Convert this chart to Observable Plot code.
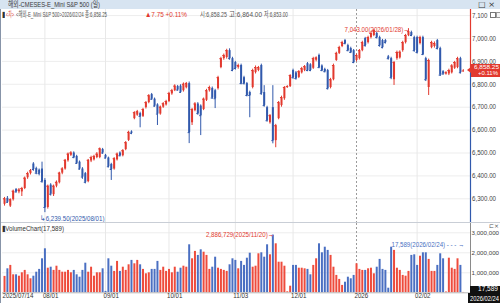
<!DOCTYPE html>
<html><head><meta charset="utf-8">
<script src="https://cdn.jsdelivr.net/npm/d3@7"></script>
<script src="https://cdn.jsdelivr.net/npm/@observablehq/plot@0.6"></script>
<style>
body{margin:0;background:#fff;}
#wrap{position:relative;width:500px;height:303px;overflow:hidden;background:#fff;
 font-family:"Liberation Sans","Noto Sans CJK KR",sans-serif;}
#titlebar{position:absolute;left:0;top:0;width:500px;height:9px;background:#d7e4f1;}
.abs{position:absolute;white-space:nowrap;line-height:1;transform-origin:0 50%;}
#main{position:absolute;left:0;top:9px;}
#vol{position:absolute;left:0;top:223px;}
#sep{position:absolute;left:0;top:222px;width:500px;height:1px;background:#c9ced6;}
#lborder{position:absolute;left:0;top:9px;width:1px;height:294px;background:#8794a8;}
</style></head>
<body><div id="wrap">
<div id="titlebar"></div>
<div id="main"></div>
<div id="sep"></div>
<div id="vol"></div>
<div id="lborder"></div>
</div>
<script>
// ---- data ----
const tickIndex = [0, 14, 35, 57, 80, 100, 122, 143, 159];
const tickLabel = ["2025/07/14","08/01","09/01","10/01","11/03","12/01","2026","02/02","2026/02/24"];
const priceTicks = [6300,6400,6500,6600,6700,6800,6900,7000,7100];
const volTicks = [1000000,2000000,3000000];
const hiDate = "2026/01/28", loDate = "2025/08/01", vmaxDate = "2025/11/20", lastDate = "2026/02/24";
const lastChange = 7.75, lastChangePct = 0.11;
const open = [6276,6302,6268,6296,6340,6330,6330,6345,6392,6410,
6452,6432,6425,6430,6380,6262,6360,6318,6355,6370,
6412,6430,6466,6490,6500,6485,6460,6430,6410,6375,
6465,6470,6480,6480,6515,6490,6478,6450,6430,6470,
6500,6488,6515,6555,6592,6650,6665,6672,6660,6698,
6720,6755,6735,6710,6670,6700,6710,6725,6758,6772,
6790,6792,6772,6785,6803,6632,6685,6714,6705,6690,
6730,6772,6782,6772,6781,6873,6912,6917,6947,6912,
6895,6873,6882,6829,6803,6764,6786,6851,6860,6882,
6764,6698,6632,6698,6554,6650,6707,6737,6786,6790,
6860,6850,6830,6850,6860,6890,6885,6870,6905,6926,
6880,6865,6860,6786,6820,6904,6935,6965,6991,6969,
6956,6947,6904,6912,6947,7000,6982,7004,7013,7022,
7004,6991,6991,6920,6912,6820,6912,6915,6947,6982,
7013,7026,7004,7004,6978,7004,6912,6786,6960,6965,
6991,6956,6855,6845,6845,6850,6870,6873,6912,6858.25];
const close = [6300,6285,6296,6333,6330,6338,6345,6390,6410,6422,
6428,6412,6410,6375,6262,6355,6320,6355,6372,6412,
6430,6468,6495,6500,6480,6455,6430,6395,6372,6468,
6480,6485,6495,6518,6500,6478,6440,6428,6475,6495,
6488,6510,6545,6590,6586,6676,6680,6660,6690,6720,
6750,6735,6705,6670,6700,6715,6725,6760,6772,6792,
6775,6765,6800,6803,6589,6690,6714,6672,6663,6735,
6772,6786,6740,6737,6829,6912,6926,6947,6912,6860,
6869,6882,6803,6803,6751,6751,6860,6873,6873,6759,
6707,6641,6663,6554,6619,6720,6742,6786,6790,6838,
6829,6825,6855,6868,6877,6860,6860,6912,6915,6873,
6860,6855,6781,6820,6882,6935,6960,6982,6978,6947,
6939,6895,6926,6947,6982,6969,7004,7022,7035,7004,
6969,6960,6982,6912,6829,6895,6939,6940,6982,7013,
7030,7013,6947,6939,7004,6930,6820,6904,6982,6978,
6956,6840,6845,6850,6860,6880,6895,6912,6850.5,6858.25];
const high = [6306,6310,6300,6338,6345,6345,6350,6395,6416,6428,
6458,6438,6430,6460,6388,6360,6366,6360,6378,6416,
6436,6472,6500,6506,6505,6490,6465,6436,6415,6472,
6486,6490,6502,6522,6520,6494,6482,6455,6480,6500,
6505,6515,6550,6595,6597,6680,6686,6678,6695,6725,
6755,6760,6740,6715,6705,6720,6730,6765,6778,6798,
6795,6798,6806,6808,6810,6695,6720,6720,6710,6740,
6778,6792,6788,6778,6835,6918,6932,6953,6955,6918,
6900,6888,6888,6835,6808,6770,6866,6880,6878,6888,
6794,6704,6668,6794,6625,6725,6748,6790,6794,6842,
6866,6856,6860,6874,6882,6895,6890,6918,6920,6932,
6885,6870,6865,6826,6888,6940,6966,6988,6996,6975,
6962,6952,6932,6952,6988,7005,7010,7028,7040,7028,
7010,6996,6996,6926,6918,6900,6945,6946,6988,7018,
7043,7032,7010,7010,7010,7010,6918,6910,6988,6985,
6996,6962,6860,6855,6866,6886,6900,6918,6918,6864];
const low = [6268,6280,6262,6290,6325,6322,6310,6340,6385,6404,
6420,6405,6400,6368,6239.5,6255,6312,6310,6348,6365,
6405,6425,6460,6485,6475,6450,6425,6385,6365,6370,
6458,6465,6475,6475,6494,6474,6435,6380,6425,6465,
6483,6483,6510,6550,6580,6645,6660,6610,6655,6692,
6715,6730,6700,6620,6665,6695,6705,6720,6752,6768,
6770,6760,6766,6780,6541,6620,6680,6665,6576,6685,
6725,6766,6735,6694,6775,6868,6905,6910,6905,6855,
6862,6866,6798,6797,6745,6654,6780,6845,6855,6752,
6700,6635,6626,6540,6523,6645,6700,6730,6782,6786,
6822,6818,6825,6845,6855,6855,6855,6865,6898,6868,
6855,6850,6775,6780,6815,6900,6930,6960,6972,6942,
6934,6890,6898,6906,6942,6962,6976,6998,7008,6998,
6962,6955,6976,6906,6820,6795,6905,6910,6940,6976,
7008,7008,6940,6932,6972,6925,6812,6751,6955,6958,
6950,6834,6840,6840,6838,6845,6865,6868,6845,6853];
const volume = [820000,1200000,1370000,900000,900000,830000,1000000,1120000,900000,700000,
830000,1030000,1170000,1700000,2200000,1230000,1280000,1120000,1330000,1120000,
1030000,1030000,1120000,1000000,1120000,900000,780000,1120000,1480000,1030000,
1280000,830000,1000000,1000000,1200000,70000,1700000,1330000,1070000,1570000,
1070000,1280000,1120000,1400000,1620000,1450000,1620000,1400000,1170000,950000,
1000000,1170000,1170000,1570000,1120000,1280000,1070000,1170000,1000000,1280000,
1030000,1230000,1330000,1280000,2400000,1700000,2070000,1870000,2150000,2030000,
1870000,1170000,1280000,1780000,1230000,1170000,1120000,1070000,1400000,1700000,
1620000,1200000,1570000,1370000,1730000,1980000,1280000,1330000,1950000,2000000,
1780000,2400000,1900000,2886729,2450000,1530000,1530000,1330000,50000,330000,
1370000,1370000,1230000,1230000,1200000,1170000,900000,1370000,1700000,2450000,
2000000,2280000,2120000,1870000,1280000,870000,670000,370000,530000,780000,
700000,870000,1450000,1170000,1120000,1120000,1200000,1230000,950000,1280000,
1670000,1170000,1120000,230000,2280000,2120000,1230000,1120000,870000,830000,
1070000,1870000,1900000,1370000,1830000,2000000,2000000,1670000,1070000,1070000,
1370000,1950000,1700000,40000,1730000,1230000,1170000,1700000,1370000,17589];

// ---- build ----
const RED = "#e2392e", BLUE = "#3159ac", VRED = "#ee4b3c", VBLUE = "#4a6fc2";
const FONT = '"Liberation Sans","Noto Sans CJK KR",sans-serif';
const candles = open.map((o, i) => {
  const c = close[i];
  const up = c > o || (c === o && i > 0 && c >= close[i - 1]);
  return {i, open: o, high: high[i], low: low[i], close: c, volume: volume[i], up};
});
const n = candles.length;
const last = candles[n - 1];
const hiC = candles.reduce((a, b) => (b.high > a.high ? b : a));
const loC = candles.reduce((a, b) => (b.low < a.low ? b : a));
const vmC = candles.reduce((a, b) => (b.volume > a.volume ? b : a));
const f2 = d3.format(",.2f"), f0 = d3.format(",");
const ticks = tickIndex.map((idx, k) => ({idx, label: tickLabel[k], year: !tickLabel[k].includes("/")}));
const monthGrid = ticks.filter((t, k) => k > 0 && k < ticks.length - 1 && !t.year).map(t => t.idx);
const yearGrid = ticks.filter(t => t.year).map(t => t.idx);
const xDomain = [-0.7, 161.5];

const main = Plot.plot({
  width: 500, height: 213, marginLeft: 2, marginRight: 30, marginTop: 0, marginBottom: 0,
  style: {fontFamily: FONT, fontSize: "7px", background: "transparent", overflow: "visible"},
  x: {domain: xDomain, axis: null},
  y: {domain: [6196.5, 7126.6], axis: null},
  color: {type: "identity"},
  marks: [
    Plot.ruleY(priceTicks, {stroke: "#ededed"}),
    Plot.ruleX(monthGrid, {stroke: "#e8e8e8"}),
    Plot.ruleX(yearGrid, {stroke: "#9a9a9a", strokeDasharray: "2,2"}),
    Plot.ruleX(candles, {x: "i", y1: "low", y2: "high", stroke: d => d.up ? RED : BLUE, strokeWidth: 1}),
    Plot.ruleX(candles, {x: "i", y1: "open", y2: "close", stroke: d => d.up ? RED : BLUE, strokeWidth: 2}),
    Plot.ruleY(candles, {y: "close", x1: d => d.i - 0.36, x2: d => d.i + 0.36, stroke: d => d.up ? RED : BLUE}),
    Plot.ruleX([xDomain[1]], {y1: last.close, y2: 7126.6, stroke: RED, strokeWidth: 1.2}),
    Plot.ruleX([xDomain[1]], {y1: 6196.5, y2: last.close, stroke: BLUE, strokeWidth: 1.2}),
    Plot.text(priceTicks.filter(d => d < 7100), {y: d => d, frameAnchor: "right", textAnchor: "start", dx: 1.5, text: d => f2(d), fill: "#444"}),
    Plot.text(priceTicks.filter(d => d >= 7100), {y: d => d, frameAnchor: "right", textAnchor: "start", dx: 1.5, text: d => f0(d), fill: "#444"}),
    Plot.text([hiC], {x: "i", y: "high", text: d => `${f2(d.high)}(${hiDate})→`, textAnchor: "end", dx: 1, dy: 0.5, fill: RED, fontSize: 7.5}),
    Plot.text([loC], {x: "i", y: "low", text: d => `↳${f2(d.low)}(${loDate})`, textAnchor: "start", dx: -5, dy: 5.5, fill: BLUE, fontSize: 7.5})
  ]
});
document.getElementById("main").appendChild(main);

const vol = Plot.plot({
  width: 500, height: 80, marginLeft: 2, marginRight: 30, marginTop: 0, marginBottom: 10.7,
  style: {fontFamily: FONT, fontSize: "6.2px", background: "transparent", overflow: "visible"},
  x: {domain: xDomain, axis: null},
  y: {domain: [0, 3465000], axis: null},
  color: {type: "identity"},
  marks: [
    Plot.ruleY(volTicks, {stroke: "#ededed"}),
    Plot.ruleX(monthGrid, {stroke: "#e8e8e8"}),
    Plot.ruleX(yearGrid, {stroke: "#9a9a9a", strokeDasharray: "2,2"}),
    Plot.ruleX(candles, {x: "i", y1: 0, y2: "volume", stroke: d => d.up ? VRED : VBLUE, strokeWidth: 2}),
    Plot.ruleY([0], {stroke: "#b8b8b8"}),
    Plot.ruleX([xDomain[1]], {stroke: "#8a8a8a"}),
    Plot.text(volTicks, {y: d => d, frameAnchor: "right", textAnchor: "start", dx: 1, text: d => f0(d), fill: "#444"}),
    Plot.text(ticks.slice(0, -1), {x: "idx", text: "label", frameAnchor: "bottom", dy: 5.5, textAnchor: "start", dx: -2,
      fill: "#333", fontSize: 7.5, fontWeight: d => d.year ? "bold" : "normal"}),
    Plot.text([vmC], {x: "i", y: "volume", text: d => `${f0(d.volume)}(${vmaxDate})→`, textAnchor: "end", dx: 1, fill: RED, fontSize: 7.5}),
    Plot.text([last], {x: "i", frameAnchor: "top", dy: 18, text: d => `${f0(d.volume)}(${lastDate}) - - - →`, textAnchor: "end", dx: 1, fill: "#4a6fc2", fontSize: 7.5})
  ]
});
document.getElementById("vol").appendChild(vol);

// condense svg texts (reference uses a narrow bitmap face); small labels keep natural width
[main, vol].forEach(svg => svg.querySelectorAll("text").forEach(t => {
  const fs = parseFloat(getComputedStyle(t).fontSize);
  if (fs < 7) return;
  const L = t.getComputedTextLength();
  const k = fs >= 7.5 ? 0.82 : 0.88;
  if (L > 0) { t.setAttribute("textLength", (L * k).toFixed(2)); t.setAttribute("lengthAdjust", "spacingAndGlyphs"); }
}));

// ---- overlays ----
const wrap = document.getElementById("wrap");
function add(html, css, fitW) {
  const e = document.createElement("div"); e.className = "abs"; e.innerHTML = html;
  Object.assign(e.style, css); wrap.appendChild(e);
  if (fitW) { const w = e.getBoundingClientRect().width; if (w > 0) e.style.transform = `scaleX(${fitW / w})`; }
  return e;
}
add("해외-CMESES-E_Mini S&amp;P 500 (일)", {left: "8px", top: "1px", fontSize: "7.5px", color: "#3a3a3a"}, 92);
add("□ ×", {left: "478px", top: "0.5px", fontSize: "7.5px", color: "#333", fontFamily: '"DejaVu Sans",sans-serif'}, 17);
const info = [
  ["▮", 2, "#333", 3], ["&lt;차&gt;", 6, RED, 8],
  [`&lt;해외-E_Mini S&amp;P 500&gt;${lastDate} 종:${f2(last.close)}`, 16, "#555", 91],
  [`▲${lastChange.toFixed(2)} +${lastChangePct.toFixed(2)}%`, 145, RED, 42],
  [`시:${f2(last.open)}`, 200, "#555", 27], [`고:${f2(last.high)}`, 229, "#555", 33], [`저:${f2(last.low)}`, 264, "#555", 24]
];
info.forEach(([t, x, c, w]) => add(t, {left: x + "px", top: "10.5px", fontSize: "7.5px", color: c}, w));
const ys = main.scale("y");
const yc = 9 + ys.apply(last.close);
add("", {left: "471px", top: (yc - 6.5) + "px", width: "29px", height: "13px", background: RED});
add(f2(last.close), {left: "473.5px", top: (yc - 5.5) + "px", fontSize: "5.5px", color: "#fff"}, 25);
add(`+${lastChangePct.toFixed(2)}%`, {left: "478px", top: (yc + 0.8) + "px", fontSize: "5.5px", color: "#fff"}, 20);
add("", {left: "467px", top: (yc - 3) + "px", width: "0", height: "0", borderTop: "3px solid transparent", borderBottom: "3px solid transparent", borderRight: "4px solid " + RED});
add("", {left: "490px", top: "12px", width: "4px", height: "4px", border: "1px solid #777", background: "#fff"});
add("", {left: "495.5px", top: "12px", width: "4px", height: "4px", border: "1px solid #999", background: "#f4f4f4"});
add("▮VolumeChart(" + f0(last.volume) + ")", {left: "2px", top: "224.5px", fontSize: "7.5px", color: "#333"}, 62);
add("⊏×", {left: "489px", top: "223px", fontSize: "6px", color: "#555", fontFamily: '"DejaVu Sans",sans-serif'}, 10);
add("", {left: "470px", top: "285.5px", width: "30px", height: "7px", background: "#111"});
add(f0(last.volume), {left: "478px", top: "286px", fontSize: "6.5px", color: "#fff"}, 20);
add("", {left: "468px", top: "293px", width: "32px", height: "10px", background: "#111"});
add(tickLabel[tickLabel.length - 1], {left: "470px", top: "295px", fontSize: "7px", color: "#fff"}, 29);
</script>
</body></html>
